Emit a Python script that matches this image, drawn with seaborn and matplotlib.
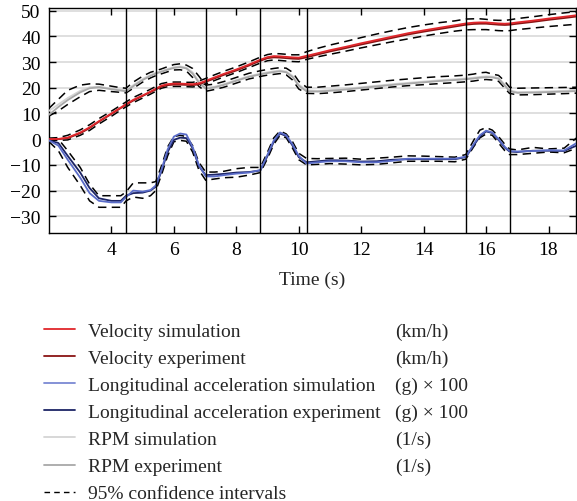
import matplotlib
matplotlib.use("Agg")
import matplotlib.pyplot as plt
from matplotlib.lines import Line2D
import seaborn as sns
import numpy as np

# ---------------- data ----------------
t = [2.0, 2.3, 2.6, 3.0, 3.3, 3.6, 4.0, 4.3,
     4.47, 4.7, 5.0, 5.25, 5.42, 5.6, 5.8, 6.0,
     6.2, 6.4, 6.6, 6.8, 7.02, 7.3, 7.6, 8.0,
     8.4, 8.77, 9.0, 9.2, 9.4, 9.6, 9.8, 10.0,
     10.25, 10.6, 11.0, 11.5, 12.0, 12.5, 13.0, 13.5,
     14.0, 14.5, 15.0, 15.35, 15.6, 15.8, 16.0, 16.2,
     16.4, 16.6, 16.75, 17.0, 17.5, 18.0, 18.5, 18.9]

vel_sim = [0.0, 0.1, 0.6, 2.6, 4.6, 7.0, 10.0, 12.3,
           13.6, 15.3, 17.0, 18.5, 19.6, 20.8, 21.4, 21.6,
           21.6, 21.5, 21.4, 21.7, 22.7, 24.0, 25.4, 27.1,
           29.0, 30.9, 31.9, 32.3, 32.2, 32.0, 31.8, 31.7,
           32.4, 33.4, 34.6, 35.9, 37.3, 38.6, 39.9, 41.2,
           42.3, 43.3, 44.3, 45.0, 45.3, 45.4, 45.4, 45.2,
           45.0, 44.9, 45.0, 45.4, 46.1, 46.9, 47.6, 48.2]
vel_exp = [0.0, 0.0, 0.4, 2.3, 4.3, 6.8, 9.8, 12.1,
           13.4, 15.0, 16.8, 18.3, 19.3, 20.4, 21.0, 21.2,
           21.2, 21.1, 21.0, 21.3, 22.3, 23.6, 25.0, 26.7,
           28.6, 30.5, 31.5, 31.8, 31.7, 31.5, 31.3, 31.2,
           31.8, 32.9, 34.1, 35.4, 36.8, 38.1, 39.4, 40.7,
           41.8, 42.8, 43.8, 44.5, 44.8, 44.9, 44.9, 44.7,
           44.5, 44.4, 44.5, 44.9, 45.6, 46.4, 47.1, 47.7]
vel_hi = [0.4, 0.6, 1.5, 3.6, 5.6, 8.0, 10.9, 13.2,
          14.5, 16.2, 17.9, 19.4, 20.5, 21.6, 22.1, 22.2,
          22.2, 22.1, 22.1, 22.6, 23.6, 25.0, 26.4, 28.1,
          30.0, 31.9, 32.9, 33.3, 33.2, 33.0, 32.8, 32.8,
          34.0, 35.3, 36.6, 38.0, 39.5, 40.9, 42.2, 43.4,
          44.4, 45.3, 46.0, 46.7, 46.8, 46.8, 46.6, 46.3,
          46.2, 46.2, 46.4, 46.9, 47.6, 48.4, 49.1, 49.6]
vel_lo = [-0.4, -0.5, -0.3, 1.5, 3.4, 5.9, 8.9, 11.3,
          12.6, 14.2, 16.0, 17.5, 18.6, 19.8, 20.4, 20.5,
          20.5, 20.4, 20.3, 20.6, 21.5, 22.8, 24.2, 25.9,
          27.8, 29.6, 30.5, 30.8, 30.6, 30.4, 30.2, 30.1,
          31.0, 32.0, 33.0, 34.2, 35.5, 36.7, 37.9, 39.0,
          40.1, 41.1, 42.0, 42.5, 42.6, 42.6, 42.6, 42.4,
          42.2, 42.1, 42.2, 42.6, 43.2, 43.8, 44.3, 44.7]

rpm_sim = [11.0, 13.5, 16.0, 18.8, 20.2, 20.4, 19.6, 19.2,
           19.0, 21.0, 23.4, 25.0, 25.8, 26.5, 27.3, 28.0,
           28.3, 27.8, 26.0, 22.5, 20.0, 20.4, 21.4, 23.0,
           24.5, 25.5, 26.0, 26.4, 26.7, 26.3, 24.6, 21.2,
           19.0, 18.8, 19.1, 19.6, 20.2, 20.8, 21.4, 21.9,
           22.4, 22.9, 23.3, 23.6, 23.9, 24.2, 24.4, 24.3,
           23.8, 21.2, 19.0, 18.3, 18.4, 18.6, 18.8, 19.0]
rpm_exp = [9.5, 12.5, 15.2, 18.2, 19.8, 20.2, 19.4, 18.9,
           18.6, 20.6, 23.0, 24.6, 25.5, 26.2, 27.0, 27.7,
           28.0, 27.5, 25.5, 22.0, 19.6, 20.1, 21.1, 22.7,
           24.2, 25.2, 25.7, 26.1, 26.4, 26.0, 24.2, 20.8,
           18.6, 18.5, 18.8, 19.3, 19.9, 20.5, 21.1, 21.6,
           22.1, 22.6, 23.0, 23.3, 23.6, 23.9, 24.1, 24.0,
           23.5, 20.8, 18.7, 18.0, 18.1, 18.3, 18.5, 18.7]
rpm_hi = [12.0, 15.5, 19.0, 21.0, 21.5, 21.4, 20.6, 20.0,
          19.8, 22.2, 24.5, 26.0, 26.6, 27.3, 28.2, 29.0,
          29.3, 28.8, 27.5, 24.5, 21.0, 21.4, 22.4, 24.0,
          25.6, 26.6, 27.1, 27.5, 27.8, 27.6, 26.0, 22.5,
          20.2, 20.2, 20.6, 21.1, 21.7, 22.3, 22.9, 23.4,
          23.9, 24.3, 24.6, 24.9, 25.3, 25.8, 26.0, 25.3,
          24.8, 22.5, 20.2, 19.8, 19.9, 20.0, 20.1, 20.2]
rpm_lo = [9.0, 11.0, 13.5, 16.5, 18.5, 19.0, 18.5, 18.2,
          18.0, 19.8, 22.2, 23.8, 24.7, 25.4, 26.2, 26.9,
          27.0, 26.5, 24.0, 20.5, 18.6, 19.3, 20.2, 21.8,
          23.4, 24.4, 24.9, 25.2, 25.5, 25.0, 23.0, 19.5,
          17.8, 17.7, 18.0, 18.5, 19.1, 19.7, 20.3, 20.8,
          21.2, 21.6, 22.0, 22.3, 22.6, 23.0, 23.2, 23.0,
          22.5, 19.8, 17.8, 17.2, 17.3, 17.5, 17.7, 17.9]

acc_sim = [-0.5, -2.5, -8.0, -15.0, -21.0, -24.0, -24.6, -24.6,
           -22.5, -20.0, -20.4, -19.8, -18.0, -12.0, -4.0, 1.0,
           2.2, 1.8, -3.0, -10.0, -14.5, -14.5, -14.0, -13.4,
           -13.0, -12.0, -6.0, -0.5, 2.6, 1.5, -2.0, -6.5,
           -9.5, -9.0, -8.6, -8.6, -9.0, -9.0, -8.4, -7.6,
           -7.6, -7.6, -7.6, -6.8, -2.0, 1.5, 3.3, 2.6,
           0.0, -3.0, -4.6, -4.8, -4.6, -4.3, -4.4, -1.5]
acc_exp = [-0.5, -1.5, -6.5, -13.0, -19.0, -23.0, -24.0, -24.0,
           -22.0, -21.0, -20.8, -20.0, -18.5, -12.5, -5.0, -0.3,
           0.6, 0.4, -3.5, -10.5, -14.0, -13.8, -13.5, -13.0,
           -12.8, -12.2, -6.5, -1.0, 2.2, 1.2, -2.5, -7.0,
           -9.0, -8.6, -8.2, -8.3, -8.7, -8.6, -8.0, -7.8,
           -7.8, -7.8, -7.8, -7.0, -2.5, 1.0, 3.0, 2.4,
           -0.3, -3.3, -4.8, -5.0, -4.5, -4.5, -4.6, -2.5]
acc_hi = [0.0, 0.0, -4.5, -11.0, -17.5, -22.0, -22.0, -22.0,
          -20.5, -17.0, -17.0, -17.0, -16.5, -10.5, -3.0, 1.0,
          1.5, 1.0, -2.5, -9.0, -12.8, -12.8, -12.5, -11.5,
          -11.0, -11.0, -5.0, 0.5, 3.2, 2.0, -1.0, -5.5,
          -7.5, -7.6, -7.5, -7.4, -7.8, -7.4, -7.0, -6.5,
          -6.6, -6.8, -7.0, -6.0, -0.5, 3.5, 4.5, 3.5,
          1.0, -2.0, -3.8, -4.2, -3.2, -3.8, -3.5, 0.5]
acc_lo = [-1.0, -4.5, -11.0, -18.0, -24.0, -26.5, -26.5, -26.5,
          -24.0, -22.5, -23.0, -22.0, -20.0, -14.0, -6.5, -1.0,
          -0.5, -0.8, -5.0, -12.0, -16.0, -15.5, -15.0, -14.8,
          -14.0, -13.0, -7.5, -2.0, 1.5, 0.5, -3.5, -8.0,
          -10.0, -9.8, -9.5, -9.7, -10.0, -9.8, -9.2, -8.6,
          -8.6, -8.6, -8.8, -7.8, -3.0, 0.5, 2.0, 1.5,
          -1.5, -4.5, -6.0, -6.0, -5.5, -5.0, -5.3, -3.5]

events = [4.47, 5.42, 7.02, 8.77, 10.25, 15.35, 16.75]
yticks = [-30, -20, -10, 0, 10, 20, 30, 40, 50]
xticks = [4, 6, 8, 10, 12, 14, 16, 18]

labels = ["Velocity simulation", "Velocity experiment",
          "Longitudinal acceleration simulation", "Longitudinal acceleration experiment",
          "RPM simulation", "RPM experiment", "95% confidence intervals"]
units = ["(km/h)", "(km/h)", "(g) \u00d7 100", "(g) \u00d7 100", "(1/s)", "(1/s)", ""]

# ---------------- style ----------------
sns.set_style("ticks")
plt.rcParams["font.family"] = ["Liberation Serif", "DejaVu Serif"]
plt.rcParams["font.size"] = 14
plt.rcParams["axes.unicode_minus"] = True

FS = 14
C_VSIM = "#e0262b"
C_VEXP = "#8a1414"
C_ASIM = "#5a6cc8"
C_AEXP = "#1c2466"
C_RSIM = "#d4d4d4"
C_REXP = "#a8a8a8"

fig = plt.figure(figsize=(5.77, 5.02), dpi=100)
ax = fig.add_axes([49 / 577, 1 - 234 / 502, (576 - 49) / 577, (234 - 8.5) / 502])

for yv in yticks:
    ax.axhline(yv, color="#dcdcdc", lw=1.3, zorder=0)

dash = dict(color="black", lw=1.1, dashes=(5.5, 3.5), zorder=3)
for arr in (vel_hi, vel_lo, rpm_hi, rpm_lo, acc_hi, acc_lo):
    sns.lineplot(x=t, y=arr, ax=ax, **dash)

lw = 1.3
sns.lineplot(x=t, y=rpm_sim, ax=ax, color=C_RSIM, lw=lw, zorder=4)
sns.lineplot(x=t, y=rpm_exp, ax=ax, color=C_REXP, lw=lw, zorder=4)
sns.lineplot(x=t, y=vel_exp, ax=ax, color=C_VEXP, lw=lw, zorder=4)
sns.lineplot(x=t, y=vel_sim, ax=ax, color=C_VSIM, lw=lw, zorder=4)
sns.lineplot(x=t, y=acc_exp, ax=ax, color=C_AEXP, lw=lw, zorder=4)
sns.lineplot(x=t, y=acc_sim, ax=ax, color=C_ASIM, lw=lw, zorder=4)

for ev in events:
    ax.axvline(ev, color="black", lw=1.0, zorder=5)

ax.set_xlim(2.0, 18.88)
ax.set_ylim(-36.5, 51.2)
ax.set_xticks(xticks)
ax.set_yticks(yticks)
ax.tick_params(direction="in", top=True, right=True, length=5, width=1.0,
               labelsize=FS, colors="black", pad=6)
for s in ax.spines.values():
    s.set_color("black")
    s.set_linewidth(1.0)
ax.set_xlabel("Time (s)", fontsize=FS, labelpad=9)
ax.set_ylabel("")

handles = [Line2D([], [], color=C_VSIM, lw=1.3),
           Line2D([], [], color=C_VEXP, lw=1.3),
           Line2D([], [], color=C_ASIM, lw=1.3, alpha=0.8),
           Line2D([], [], color=C_AEXP, lw=1.3),
           Line2D([], [], color=C_RSIM, lw=1.3),
           Line2D([], [], color=C_REXP, lw=1.3),
           Line2D([], [], color="black", lw=1.0, dashes=(4, 3))]
leg = fig.legend(handles, labels, loc="upper left",
                 bbox_to_anchor=(44 / 577, 1 - 323.5 / 502),
                 bbox_transform=fig.transFigure, frameon=False,
                 fontsize=FS, handlelength=1.6, handletextpad=0.65,
                 labelspacing=0.485, borderpad=0, borderaxespad=0)

fig.canvas.draw()
inv = fig.transFigure.inverted()
for txt, u in zip(leg.get_texts(), units):
    if not u:
        continue
    bb = txt.get_window_extent()
    y0 = inv.transform((0, bb.y0))[1]
    fig.text(395 / 577, y0, u, fontsize=FS, va="bottom", ha="left")

fig.savefig("out.png", dpi=100)
